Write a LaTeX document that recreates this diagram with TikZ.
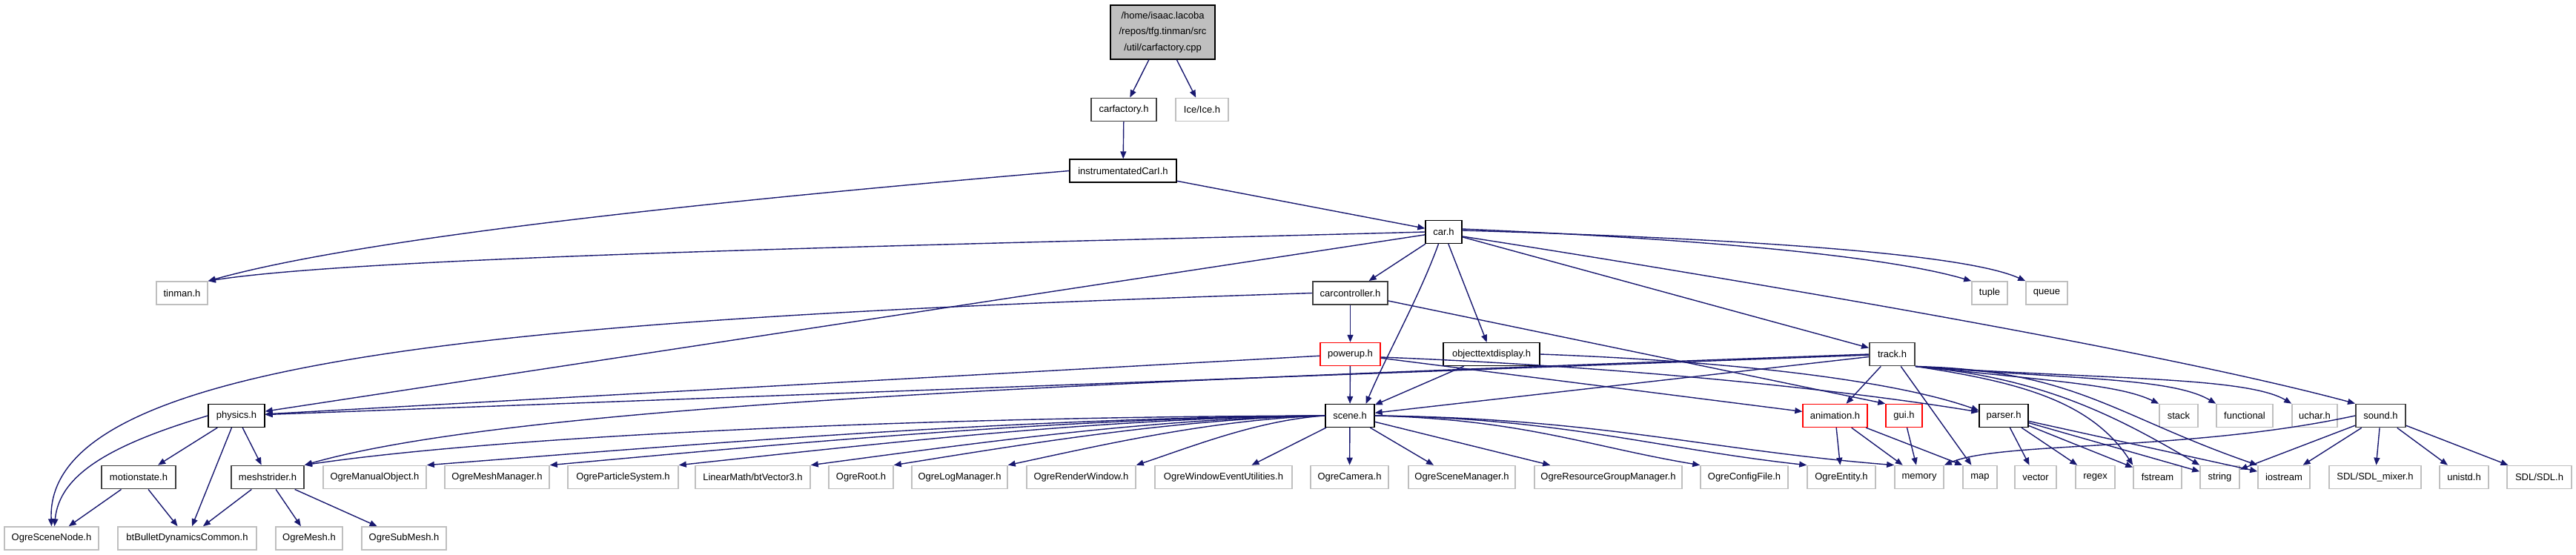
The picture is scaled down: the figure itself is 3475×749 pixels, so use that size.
\documentclass[tikz,border=0pt]{standalone}
\usepackage{fontspec}
\setmainfont{Liberation Sans}
\usetikzlibrary{arrows.meta}
\definecolor{edgeblue}{HTML}{191970}
\definecolor{extgray}{HTML}{BFBFBF}
\definecolor{rootgray}{HTML}{BFBFBF}
\definecolor{darkborder}{HTML}{404040}
\tikzset{
  box/.style={rectangle, inner sep=0pt, minimum height=31pt, font=\fontsize{13}{15}\selectfont, text=black, fill=white},
  doc/.style={box, draw=black, line width=1.3pt},
  docd/.style={box, draw=darkborder, line width=1.9pt},
  ext/.style={box, draw=extgray, line width=1.6pt},
  trunc/.style={box, draw=red, line width=1.4pt},
  rootn/.style={box, draw=black, line width=1.3pt, fill=rootgray, align=center, font=\fontsize{13}{21.5}\selectfont},
  e/.style={draw=edgeblue, line width=1.4pt, -{Triangle[length=10pt,width=8pt]}}
}
\begin{document}
\begin{tikzpicture}[x=1pt,y=-1pt]
\useasboundingbox (0,0) rectangle (3475,749);
% row 0-3
\node[rootn, minimum width=141pt, minimum height=73pt] (root) at (1568.5,43.5) {/home/isaac.lacoba\\/repos/tfg.tinman/src\\/util/carfactory.cpp};
\node[docd, minimum width=88pt] (carfactory) at (1516,148) {carfactory.h};
\node[ext, minimum width=71pt] (ice) at (1621.5,148) {Ice/Ice.h};
\node[doc, minimum width=144pt] (icar) at (1515,230.5) {instrumentatedCarI.h};
\node[doc, minimum width=49pt] (car) at (1947.5,313) {car.h};
% row 4
\node[ext, minimum width=69pt] (tinman) at (245.5,395.5) {tinman.h};
\node[docd, minimum width=101pt] (carcontroller) at (1821.5,395.5) {carcontroller.h};
\node[ext, minimum width=48pt] (tuple) at (2684,395.5) {tuple};
\node[ext, minimum width=56pt] (queue) at (2761,395.5) {queue};
% row 5
\node[trunc, minimum width=81pt] (powerup) at (1821.5,478) {powerup.h};
\node[doc, minimum width=130pt] (otd) at (2012,478) {objecttextdisplay.h};
\node[docd, minimum width=61pt] (track) at (2552.5,478) {track.h};
% row 6
\node[doc, minimum width=76pt] (physics) at (319,561) {physics.h};
\node[doc, minimum width=66pt] (scene) at (1821,561) {scene.h};
\node[trunc, minimum width=87pt] (animation) at (2475.5,561) {animation.h};
\node[trunc, minimum width=49pt] (gui) at (2568.5,561) {gui.h};
\node[doc, minimum width=66pt] (parser) at (2703,561) {parser.h};
\node[ext, minimum width=52pt] (stack) at (2939,561) {stack};
\node[ext, minimum width=76pt] (functional) at (3028,561) {functional};
\node[ext, minimum width=61pt] (uchar) at (3122.5,561) {uchar.h};
\node[docd, minimum width=67pt] (sound) at (3211.5,561) {sound.h};
% row 7
\node[docd, minimum width=100pt] (motionstate) at (187,644) {motionstate.h};
\node[docd, minimum width=98pt] (meshstrider) at (361,644) {meshstrider.h};
\node[ext, minimum width=139pt] (omo) at (505.5,644) {OgreManualObject.h};
\node[ext, minimum width=141pt] (ommgr) at (670.5,644) {OgreMeshManager.h};
\node[ext, minimum width=149pt] (ops) at (840.5,644) {OgreParticleSystem.h};
\node[ext, minimum width=155pt] (btv) at (1015.5,644) {LinearMath/btVector3.h};
\node[ext, minimum width=87pt] (oroot) at (1161.5,644) {OgreRoot.h};
\node[ext, minimum width=129pt] (olm) at (1294.5,644) {OgreLogManager.h};
\node[ext, minimum width=147pt] (orw) at (1458.5,644) {OgreRenderWindow.h};
\node[ext, minimum width=185pt] (owe) at (1650.5,644) {OgreWindowEventUtilities.h};
\node[ext, minimum width=105pt] (ocam) at (1820.5,644) {OgreCamera.h};
\node[ext, minimum width=144pt] (osm) at (1972,644) {OgreSceneManager.h};
\node[ext, minimum width=199pt] (orgm) at (2169.5,644) {OgreResourceGroupManager.h};
\node[ext, minimum width=118pt] (ocf) at (2353,644) {OgreConfigFile.h};
\node[ext, minimum width=92pt] (oent) at (2484,644) {OgreEntity.h};
\node[ext, minimum width=66pt] (memory) at (2589,644) {memory};
\node[ext, minimum width=46pt] (map) at (2671,644) {map};
\node[ext, minimum width=56pt] (vector) at (2746,644) {vector};
\node[ext, minimum width=53pt] (regex) at (2826.5,644) {regex};
\node[ext, minimum width=65pt] (fstream) at (2910.5,644) {fstream};
\node[ext, minimum width=53pt] (string) at (2994.5,644) {string};
\node[ext, minimum width=70pt] (iostream) at (3081,644) {iostream};
\node[ext, minimum width=124pt] (sdlmixer) at (3204,644) {SDL/SDL\_mixer.h};
\node[ext, minimum width=66pt] (unistd) at (3324,644) {unistd.h};
\node[ext, minimum width=87pt] (sdl) at (3425.5,644) {SDL/SDL.h};
% row 8
\node[ext, minimum width=127pt] (scenenode) at (69.5,726.5) {OgreSceneNode.h};
\node[ext, minimum width=187pt] (btbullet) at (252.5,726.5) {btBulletDynamicsCommon.h};
\node[ext, minimum width=90pt] (ogremesh) at (417,726.5) {OgreMesh.h};
\node[ext, minimum width=114pt] (ogresubmesh) at (545,726.5) {OgreSubMesh.h};

% edges
\draw[e] (root) -- (carfactory);
\draw[e] (root) -- (ice);
\draw[e] (carfactory) -- (icar);
\draw[e] (icar.west) .. controls (1000,268) and (500,318) .. (tinman.north east);
\draw[e] (icar) -- (car);
\draw[e] (car.west) .. controls (1300,330) and (500,345) .. (tinman.north east);
\draw[e] (car) -- (carcontroller);
\draw[e] (car) -- (physics);
\draw[e] ([xshift=-7pt]car.south) .. controls (1915,400) and (1870,480) .. ([xshift=-12pt]scene.north east);
\draw[e] (car) -- (otd);
\draw[e] (car) -- (track);
\draw[e] ([yshift=4pt]car.east) .. controls (2350,325) and (2560,350) .. (tuple.north west);
\draw[e] ([yshift=2pt]car.east) .. controls (2350,322) and (2650,342) .. (queue.north west);
\draw[e] ([yshift=-6pt]car.east) .. controls (2300,370) and (2900,470) .. (sound.north west);

\draw[e] (carcontroller) -- (powerup);
\draw[e] (carcontroller.west) .. controls (700,430) and (60,480) .. (scenenode.north);
\draw[e] (carcontroller) -- (gui.north west);

\draw[e] (powerup) -- (scene);
\draw[e] (powerup) -- (physics);
\draw[e] (powerup) -- (animation);
\draw[e] ([yshift=-4pt]powerup.east) .. controls (2200,495) and (2500,528) .. ([yshift=5pt]parser.west);

\draw[e] (otd) -- (scene);
\draw[e] (otd.east) .. controls (2350,488) and (2560,515) .. ([yshift=7pt]parser.west);

\draw[e] (track) -- (physics);
\draw[e] (track.west) .. controls (1500,515) and (700,545) .. (meshstrider.north east);
\draw[e] (track) -- (scene);
\draw[e] (track) -- (animation);
\draw[e] (track) -- (map);
\draw[e] (track.south east) .. controls (2780,515) and (2860,520) .. (stack.north west);
\draw[e] (track.south east) .. controls (2800,512) and (2930,510) .. (functional.north west);
\draw[e] (track.south east) .. controls (2830,512) and (3030,508) .. (uchar.north west);
\draw[e] (track.south east) .. controls (2720,515) and (2820,540) .. (fstream.north west);
\draw[e] (track.south east) .. controls (2760,510) and (2860,565) .. (string.north west);
\draw[e] (track.south east) .. controls (2800,500) and (2850,560) .. (iostream.north west);

\draw[e] (physics) -- (motionstate);
\draw[e] (physics) -- (btbullet);
\draw[e] (physics) -- (meshstrider);
\draw[e] (physics.west) .. controls (150,600) and (80,640) .. ([xshift=4pt]scenenode.north);
\draw[e] (motionstate) -- (scenenode);
\draw[e] (motionstate) -- (btbullet);
\draw[e] (meshstrider) -- (btbullet);
\draw[e] (meshstrider) -- (ogremesh);
\draw[e] (meshstrider) -- (ogresubmesh);

\draw[e] (scene.west) .. controls (1300,562) and (700,585) .. (meshstrider.north east);
\draw[e] (scene.west) .. controls +(-420,3) and +(360,-28) .. (omo.north east);
\draw[e] (scene.west) .. controls +(-360,3) and +(310,-28) .. (ommgr.north east);
\draw[e] (scene.west) .. controls +(-300,3) and +(260,-28) .. (ops.north east);
\draw[e] (scene.west) .. controls +(-240,4) and +(210,-28) .. (btv.north east);
\draw[e] (scene.west) .. controls +(-200,4) and +(175,-28) .. (oroot.north east);
\draw[e] (scene.west) .. controls +(-150,5) and +(130,-28) .. (olm.north east);
\draw[e] (scene.west) .. controls +(-90,6) and +(75,-25) .. (orw.north east);
\draw[e] (scene) -- ([xshift=38pt]owe.north);
\draw[e] (scene) -- (ocam);
\draw[e] (scene) -- ([xshift=-38pt]osm.north);
\draw[e] (scene) -- ([xshift=22pt]orgm.north west);
\draw[e] (scene.east) .. controls +(200,5) and +(-150,-25) .. (ocf.north west);
\draw[e] (scene.east) .. controls +(250,3) and +(-200,-22) .. (oent.north west);
\draw[e] (scene.east) .. controls +(300,3) and +(-250,-20) .. (memory.north west);

\draw[e] (animation) -- (oent);
\draw[e] (animation) -- (memory);
\draw[e] (animation) -- (map.north west);
\draw[e] (gui) -- (memory);

\draw[e] (parser) -- (vector);
\draw[e] (parser) -- (regex);
\draw[e] (parser) -- (fstream);
\draw[e] (parser) -- (string);
\draw[e] (parser) -- (iostream);

\draw[e] (sound.west) .. controls (2950,610) and (2700,595) .. (memory.north east);
\draw[e] (sound) -- (string);
\draw[e] (sound) -- (iostream);
\draw[e] (sound) -- (sdlmixer);
\draw[e] (sound) -- (unistd);
\draw[e] (sound) -- (sdl);
\end{tikzpicture}
\end{document}
